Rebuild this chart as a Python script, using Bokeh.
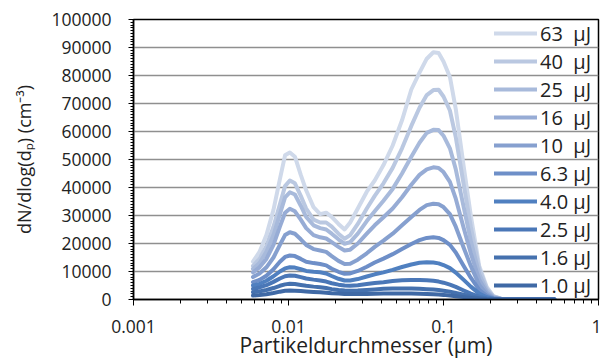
from bokeh.plotting import figure
from bokeh.models import (FixedTicker, Legend, LegendItem, NumeralTickFormatter,
                          CustomJSTickFormatter)
from bokeh.embed import file_html
from bokeh.resources import INLINE

# particle diameter (µm)
diameters = [0.0059, 0.0065, 0.0072, 0.008, 0.0088, 0.0095, 0.0102, 0.011, 0.012, 0.013,
             0.0145, 0.016, 0.0175, 0.019, 0.021, 0.023, 0.025, 0.028, 0.032, 0.036,
             0.041, 0.047, 0.054, 0.062, 0.07, 0.078, 0.086, 0.093, 0.1, 0.11,
             0.12, 0.135, 0.15, 0.17, 0.19, 0.21, 0.235, 0.27, 0.32, 0.4, 0.52]

labels = ["63  µJ", "40  µJ", "25  µJ", "16  µJ", "10  µJ",
          "6.3 µJ", "4.0 µJ", "2.5 µJ", "1.6 µJ", "1.0 µJ"]

colors = ["#cfd9ea", "#bac8e1", "#a8badb", "#97acd5", "#86a0cf",
          "#6e8fc8", "#5080c0", "#4a77b7", "#4571ae", "#3f69a5"]

s63 = [13500, 17000, 23000, 32000, 43000, 51500, 52500, 51000, 44500, 39000,
       33000, 30500, 31000, 29500, 27000, 25000, 27500, 32500, 38500, 42500,
       48000, 55000, 64000, 75000, 81000, 86000, 88300, 88000, 85000, 79500,
       68000, 47500, 30000, 12000, 4500, 1200, 300, 100, 50, 0, 0]
s40 = [12000, 14500, 19000, 26000, 34000, 40500, 42500, 41500, 37000, 32500,
       28500, 27500, 27500, 26000, 23500, 21700, 23000, 27000, 32500, 37000,
       41500, 47000, 54000, 62000, 68500, 73000, 74800, 74900, 72500, 67500,
       58000, 41000, 26000, 11000, 4000, 1100, 300, 100, 50, 0, 0]
s25 = [11000, 13000, 17000, 23000, 30500, 36500, 38300, 37500, 33500, 29500,
       26500, 25500, 25000, 23500, 21500, 19900, 20500, 23500, 28000, 31500,
       35300, 39500, 45000, 51000, 56000, 59500, 60600, 60500, 58500, 54000,
       46500, 33000, 21000, 9000, 3300, 900, 250, 80, 40, 0, 0]
s16 = [9700, 11500, 14500, 19500, 26000, 31000, 32400, 31500, 28500, 25500,
       23000, 22200, 21800, 20500, 18800, 17500, 17800, 20000, 23500, 26500,
       29400, 32500, 36500, 41000, 44500, 46500, 47200, 47000, 45500, 42000,
       36000, 25500, 16500, 7000, 2600, 700, 200, 60, 30, 0, 0]
s10 = [8000, 9300, 11500, 15000, 19500, 23000, 24000, 23500, 21500, 19500,
       18000, 17500, 17000, 15500, 13800, 12700, 12800, 14200, 16500, 18800,
       21000, 23500, 26500, 29500, 32000, 33700, 34200, 34000, 33000, 30500,
       26000, 18500, 12000, 5200, 1900, 500, 150, 50, 20, 0, 0]
s6_3 = [6200, 7000, 8500, 10800, 13500, 15200, 15700, 15500, 14500, 13500,
        13000, 12700, 12200, 11000, 9900, 9200, 9300, 10200, 11700, 13200,
        14600, 16200, 18000, 19800, 21200, 22000, 22200, 22000, 21200, 19500,
        16800, 12000, 7800, 3400, 1300, 400, 120, 40, 20, 0, 0]
s4_0 = [5000, 5600, 6700, 8300, 10000, 11100, 11500, 11400, 10800, 10200,
        9900, 9700, 9300, 8400, 7400, 6800, 6800, 7300, 8200, 9000,
        9700, 10600, 11600, 12500, 13100, 13300, 13200, 12900, 12300, 11200,
        9600, 7000, 4600, 2100, 800, 250, 80, 30, 10, 0, 0]
s2_5 = [3800, 4300, 5100, 6300, 7500, 8300, 8600, 8500, 8000, 7500,
        7100, 6800, 6400, 5800, 5300, 5000, 4900, 5100, 5500, 5900,
        6200, 6600, 6900, 7000, 7000, 6900, 6700, 6400, 6000, 5300,
        4500, 3200, 2100, 1000, 400, 130, 40, 10, 0, 0, 0]
s1_6 = [2600, 2900, 3400, 4100, 4900, 5400, 5600, 5500, 5200, 4900,
        4600, 4400, 4100, 3700, 3400, 3200, 3100, 3200, 3400, 3600,
        3800, 3900, 3950, 3900, 3800, 3700, 3550, 3400, 3150, 2800,
        2350, 1700, 1100, 500, 200, 70, 20, 10, 0, 0, 0]
s1_0 = [1400, 1600, 1900, 2300, 2800, 3100, 3200, 3150, 3000, 2850,
        2700, 2600, 2450, 2250, 2100, 2000, 1950, 1950, 2000, 2050,
        2100, 2150, 2150, 2100, 2050, 1950, 1850, 1750, 1650, 1450,
        1200, 850, 550, 250, 100, 30, 10, 0, 0, 0, 0]

series = [s63, s40, s25, s16, s10, s6_3, s4_0, s2_5, s1_6, s1_0]

x_major = [0.001, 0.01, 0.1, 1]
y_major = list(range(0, 100001, 10000))

FONT = "Open Sans"
TXT = "#222222"

p = figure(width=601, height=361, x_axis_type="log",
           x_range=(0.001, 1), y_range=(0, 100000),
           output_backend="svg", toolbar_location=None,
           min_border_left=133, min_border_right=3,
           min_border_top=19, min_border_bottom=10)

p.background_fill_color = "white"
p.border_fill_color = "white"
p.outline_line_color = "black"
p.outline_line_width = 1.5

p.xgrid.visible = False
p.ygrid.grid_line_color = "#8f8f8f"
p.ygrid.grid_line_width = 1.5

x_minor = [k * d for d in x_major[:-1] for k in range(2, 10)]
p.xaxis.ticker = FixedTicker(ticks=x_major, minor_ticks=x_minor)
p.xaxis.formatter = CustomJSTickFormatter(code="return tick.toString();")
p.yaxis.ticker = FixedTicker(ticks=y_major, minor_ticks=list(range(0, 100001, 1000)))
p.yaxis.formatter = NumeralTickFormatter(format="0")

for ax in (p.xaxis, p.yaxis):
    ax.axis_line_color = "black"
    ax.axis_line_width = 1.5
    ax.major_tick_line_color = "black"
    ax.minor_tick_line_color = "black"
    ax.major_tick_in = 0
    ax.minor_tick_in = 0
    ax.major_label_text_font = FONT
    ax.major_label_text_font_size = "17.5px"
    ax.major_label_text_color = TXT
    ax.axis_label_text_font = FONT
    ax.axis_label_text_font_style = "normal"
    ax.axis_label_text_color = TXT

p.xaxis.major_tick_out = 6
p.xaxis.minor_tick_out = 4
p.xaxis.major_label_standoff = 14
p.xaxis.axis_label = "Partikeldurchmesser (µm)"
p.xaxis.axis_label_text_font_size = "21px"
p.xaxis.axis_label_standoff = -5

p.yaxis.major_tick_out = 5
p.yaxis.minor_tick_out = 3
p.yaxis.major_label_standoff = 17
p.yaxis.axis_label = "dN/dlog(dₚ) (cm⁻³)"
p.yaxis.axis_label_text_font_size = "18px"
p.yaxis.axis_label_standoff = 12

items = []
for lab, col, vals in zip(labels, colors, series):
    r = p.line(x=diameters, y=vals, line_width=4, line_color=col,
               line_join="round", line_cap="round")
    items.append(LegendItem(label=lab, renderers=[r]))

legend = Legend(items=items, location="top_right",
                background_fill_alpha=0, border_line_alpha=0,
                label_text_font=FONT, label_text_font_size="20px",
                label_text_color=TXT,
                glyph_width=43, glyph_height=28, label_height=28, label_width=58,
                spacing=0, padding=0, margin=0, label_standoff=3)
p.add_layout(legend)

open("out.html", "w").write(file_html(p, INLINE))
